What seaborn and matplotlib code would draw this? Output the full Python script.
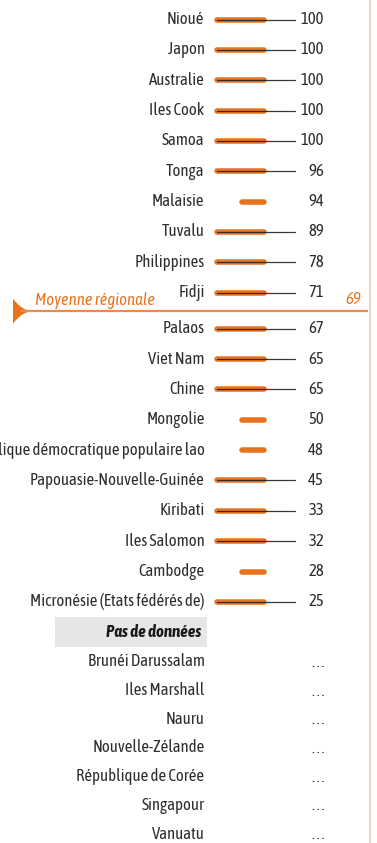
import matplotlib
matplotlib.use("Agg")
import matplotlib.pyplot as plt
from matplotlib import font_manager
from matplotlib.patches import Polygon, Rectangle
import numpy as np
import pandas as pd
import seaborn as sns

# ---- data ---------------------------------------------------------------
countries = ["Nioué", "Japon", "Australie", "Iles Cook", "Samoa", "Tonga",
             "Malaisie", "Tuvalu", "Philippines", "Fidji", "Palaos",
             "Viet Nam", "Chine", "Mongolie",
             "République démocratique populaire lao",
             "Papouasie-Nouvelle-Guinée", "Kiribati", "Iles Salomon",
             "Cambodge", "Micronésie (Etats fédérés de)"]
values = [100, 100, 100, 100, 100, 96, 94, 89, 78, 71, 67, 65, 65, 50, 48,
          45, 33, 32, 28, 25]
# indicator kind: "long" = stroke with reference line, "short" = stroke only
marker_kind = ["long", "long", "long", "long", "long", "long", "short",
               "long", "long", "long", "long", "long", "long", "short",
               "short", "long", "long", "long", "short", "long"]
no_data = ["Brunéi Darussalam", "Iles Marshall", "Nauru", "Nouvelle-Zélande",
           "République de Corée", "Singapour", "Vanuatu"]
regional_average = 69
no_data_title = "Pas de données"
average_label = "Moyenne régionale"

# ---- style --------------------------------------------------------------
sns.set_theme(style="white")


def _weight(w):
    if isinstance(w, str):
        return {"light": 300, "normal": 400, "regular": 400, "book": 400,
                "medium": 500, "semibold": 600, "demibold": 600,
                "bold": 700, "heavy": 800, "black": 900}.get(w.lower(), 400)
    return int(w)


# narrow sans-serif faces that are installed, with their styles
faces = {}
for f in font_manager.fontManager.ttflist:
    key = f.name.lower()
    if "narrow" in key or "condensed" in key:
        faces.setdefault(f.name, set()).add((f.style, _weight(f.weight)))


def _score(name):
    s = faces[name]
    regular = any(st == "normal" and 380 <= w <= 450 for st, w in s)
    bold_it = any(st != "normal" and w >= 600 for st, w in s)
    italic = any(st != "normal" for st, w in s)
    return (regular, bold_it, italic, "liberation" in name.lower())


STRETCH = "normal"
TITLE_STYLE, TITLE_WEIGHT = "italic", "bold"
if faces:
    base_font = max(sorted(faces), key=_score)
    if not any(st != "normal" and w >= 600 for st, w in faces[base_font]):
        TITLE_STYLE = "normal"
else:
    base_font = "DejaVu Sans"
    STRETCH = "condensed"
plt.rcParams["font.family"] = [base_font, "DejaVu Sans"]
plt.rcParams["font.stretch"] = STRETCH

ORANGE = "#e8731f"
ORANGE_LIGHT = "#ee8a45"
PEACH = "#f5cdb2"
TEXT = "#2e2e2e"
FS = 12.1

W, H = 377, 843
fig = plt.figure(figsize=(W / 100, H / 100), dpi=100)
ax = fig.add_axes([0, 0, 1, 1])

# ---- row layout ---------------------------------------------------------
step_top = 30.35
n_above = sum(v > regional_average for v in values)
row_y = []
for i in range(len(values)):
    y = 19.5 + step_top * i
    if i >= n_above:
        y += 5.7
    row_y.append(y)
avg_y = (row_y[n_above - 1] + row_y[n_above]) / 2 + 0.5
nodata_title_y = row_y[-1] + 30
step_bottom = 28.7
nodata_y = [nodata_title_y + 30 + step_bottom * i for i in range(len(no_data))]

LABEL_X = 204.5
VALUE_X = 324
STROKE_START_LONG, STROKE_START_SHORT, STROKE_END = 216.5, 241.5, 264
LINE_END = 295

df = pd.DataFrame({"country": countries, "value": values,
                   "kind": marker_kind, "y": row_y})

# orange strokes
strokes = []
for _, r in df.iterrows():
    x0 = STROKE_START_LONG if r["kind"] == "long" else STROKE_START_SHORT
    strokes += [{"country": r["country"], "x": x0, "y": r["y"]},
                {"country": r["country"], "x": STROKE_END, "y": r["y"]}]
strokes = pd.DataFrame(strokes)
sns.lineplot(data=strokes, x="x", y="y", units="country", estimator=None,
             sort=False, color=ORANGE, lw=4.0, solid_capstyle="round",
             ax=ax, legend=False)

# thin reference lines
refs = []
for _, r in df[df["kind"] == "long"].iterrows():
    refs += [{"country": r["country"], "x": STROKE_START_LONG, "y": r["y"]},
             {"country": r["country"], "x": LINE_END, "y": r["y"]}]
refs = pd.DataFrame(refs)
sns.lineplot(data=refs, x="x", y="y", units="country", estimator=None,
             sort=False, color="#222222", lw=0.9, alpha=0.9, ax=ax,
             legend=False)
ax.set_xlim(0, W)
ax.set_ylim(H, 0)
ax.axis("off")

# country labels and values
for _, r in df.iterrows():
    ax.text(LABEL_X, r["y"], r["country"], ha="right", va="center",
            fontsize=FS, color=TEXT)
    ax.text(VALUE_X, r["y"], f"{r['value']}", ha="right", va="center",
            fontsize=FS, color=TEXT)

# regional average
ax.plot([20, 368], [avg_y, avg_y], color=ORANGE_LIGHT, lw=1.6,
        solid_capstyle="butt")
t = np.linspace(0, 1, 30)
top = avg_y - 12.5 + 12.5 * (1 - (1 - t) ** 2.2)
bot = avg_y + 12.5 - 12.5 * (1 - (1 - t) ** 2.2)
xs = 13 + 21 * t
wedge = np.vstack([np.column_stack([xs, top]),
                   np.column_stack([xs[::-1], bot[::-1]])])
ax.add_patch(Polygon(wedge, closed=True, color=ORANGE, lw=0))
ax.text(35, avg_y - 11, average_label, ha="left", va="center",
        fontsize=FS, color=ORANGE, style="italic")
ax.text(361, avg_y - 12, f"{regional_average}", ha="right", va="center",
        fontsize=FS, color=ORANGE, style="italic")

# right border rule
ax.plot([370, 370], [0, H], color=PEACH, lw=1.3)

# no-data block
ax.add_patch(Rectangle((55, nodata_title_y - 15), 152, 30,
                       color="#e6e6e6", lw=0))
ax.text(201, nodata_title_y, no_data_title, ha="right", va="center",
        fontsize=FS, color="#1a1a1a", style=TITLE_STYLE, weight=TITLE_WEIGHT)
for name, y in zip(no_data, nodata_y):
    ax.text(LABEL_X, y, name, ha="right", va="center", fontsize=FS,
            color=TEXT)
    ax.text(VALUE_X, y + 1, ". . .", ha="right", va="center",
            fontsize=FS - 1.5, color=TEXT)

fig.savefig("out.png", dpi=100)
